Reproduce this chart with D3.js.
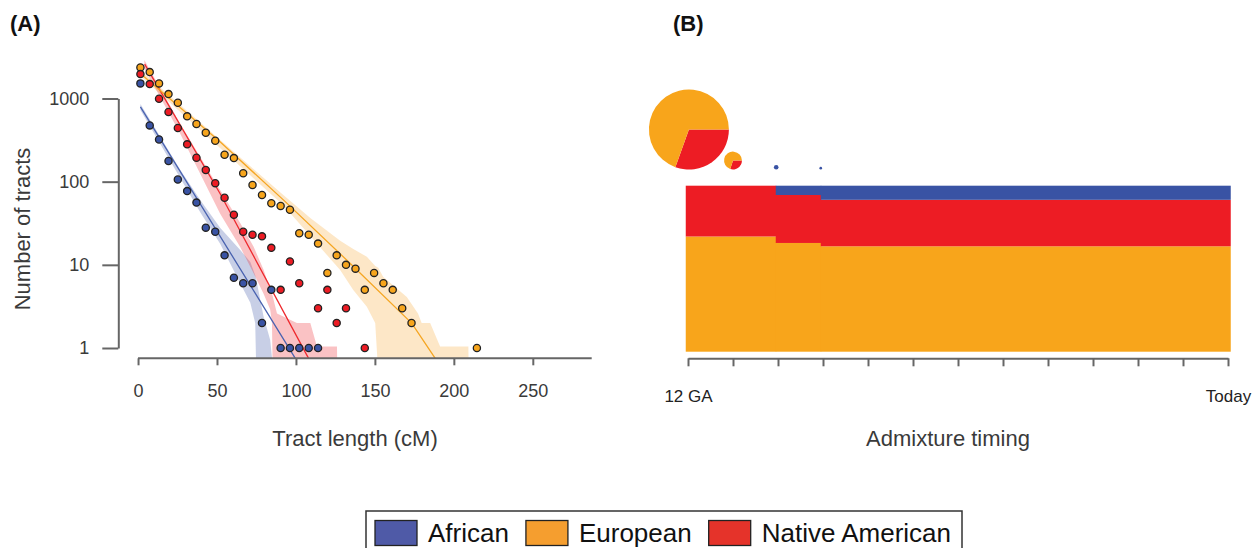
<!DOCTYPE html>
<html>
<head>
<meta charset="utf-8">
<script src="https://cdn.jsdelivr.net/npm/d3@7"></script>
<style>
  body { margin: 0; background: #fff; }
  svg { display: block; font-family: "Liberation Sans", Arial, sans-serif; }
  .axis path, .axis line { stroke: #666; stroke-width: 2; }
  .axis text { font-family: "Liberation Sans", Arial, sans-serif; font-size: 18px; fill: #3a3a3a; }
  .title { font-size: 22px; fill: #3a3a3a; }
  .panel { font-size: 22px; font-weight: bold; fill: #111; }
</style>
</head>
<body>
<svg id="chart" width="1258" height="548"></svg>
<script>
// ---------- data: panel A (tract length distribution) ----------
const ancestries = ["African", "European", "Native American"];

// bin centres in cM
const binCM = [1.5, 7.4, 13.3, 19.3, 25.2, 31.1, 37.0, 42.9, 48.9, 54.8, 60.7, 66.6, 72.5,
  78.5, 84.4, 90.3, 96.2, 102.1, 108.1, 114.0, 119.9, 125.8, 131.7, 137.7, 143.6, 149.5,
  155.4, 161.3, 167.3, 173.2, 179.1, 185.0, 190.9, 196.9, 202.8, 208.7, 214.6];

// observed tract counts per bin (null = no tracts)
const africanCounts = [1520, 475, 322, 177, 106, 77, 56, 28, 25, 13, 7, 6, 6, 2, 5, 1, 1, 1, 1, 1];
const europeanCounts = [2365, 2076, 1518, 1129, 889, 610, 493, 387, 310, 211, 192, 126, 91, 69,
  55, 51, 46, 24, 23, 18, 8, 13, 10, 9, 5, 8, 6, 5, 3, 2, null, null, null, null, null, null, 1];
const nativeCounts = [1965, 1490, 992, 687, 441, 281, 194, 138, 96, 64, 40, 25, 23, 22, 16, 5,
  11, 6, null, 3, 5, 2, 3, null, 1];

// model prediction (knots, cM / count)
const africanModelCM = [1.5, 99.6, 104];
const africanModel = [795, 0.75, 0.55];
const europeanModelCM = [1.5, 52.1, 92.2, 134.4, 173.4, 188.2, 192];
const europeanModel = [2000, 300, 60, 10.4, 1.98, 0.75, 0.6];
const nativeModelCM = [4.2, 52.1, 108.0, 112];
const nativeModel = [2590, 71, 0.75, 0.55];

// bootstrap bands (cM, upper, lower)
const africanBandCM = [1.5, 26.8, 39.4, 52.1, 64.7, 71.1, 74.2, 74.9, 79.5, 83.7, 85.8];
const africanBandHi = [857, 138, 60, 27.7, 15.1, 10.8, 7.5, 6.6, 2.4, 1.25, 0.5];
const africanBandLo = [726, 110, 43, 17.8, 6.0, 3.5, 2.0, 0.5, 0.5, 0.5, 0.5];
const nativeBandCM = [4.0, 26.8, 52.1, 64.7, 73.2, 79.5, 83.7, 84.8, 85.3, 88.0, 100.6, 109.1, 113.3, 126.0, 126.2];
const nativeBandHi = [2896, 492, 79, 31.8, 16.5, 8.7, 5.0, 4.5, 4.2, 2.6, 2.0, 2.0, 1.04, 1.04, 0.5];
const nativeBandLo = [2318, 373, 40.8, 16.4, 7.9, 4.5, 2.9, 2.0, 0.5, 0.5, 0.5, 0.5, 0.5, 0.5, 0.5];
const europeanBandCM = [1.5, 52.1, 92.0, 109.1, 128.0, 136.3, 144.9, 150.2, 152.1, 155.2, 170.2, 177.3, 179.6, 185.0, 191.3, 209.2, 209.4];
const europeanBandHi = [2194, 316, 69, 36.5, 19.5, 15.5, 12.5, 9.7, 9.2, 7.2, 4.1, 2.6, 2.0, 2.0, 1.04, 1.04, 0.5];
const europeanBandLo = [1858, 253, 52, 22.2, 8.66, 4.98, 3.14, 2.0, 0.5, 0.5, 0.5, 0.5, 0.5, 0.5, 0.5, 0.5, 0.5];

const xTicks = [0, 50, 100, 150, 200, 250];
const yTicks = [1, 10, 100, 1000];

// ---------- data: panel B (admixture timing) ----------
const genTicks = [0, 1, 2, 3, 4, 5, 6, 7, 8, 9, 10, 11, 12];
const genLabels = { 0: "12 GA", 12: "Today" };
// stacked ancestry proportions per period
const periodStart = [-0.05, 1.95, 2.95];
const periodEnd = [1.95, 2.95, 12.05];
const periodEuropean = [0.694, 0.655, 0.635];
const periodNative = [0.306, 0.289, 0.280];
const periodAfrican = [0, 0.056, 0.085];
// migration pulses
const pulseGen = [0.02, 1, 1.96, 2.95];
const pulseSize = [1, 0.05, 0.0033, 0.0011];
const pulseEuropean = [0.695, 0.70, 0, 0];
const pulseNative = [0.305, 0.30, 0, 0];
const pulseAfrican = [0, 0, 1, 1];

// ---------- styles ----------
const pointColor = { "African": "#3953a4", "European": "#f7a51c", "Native American": "#ed1c24" };
const lineColor = { "African": "#4a63b0", "European": "#f5a623", "Native American": "#ee2a2f" };
const bandColor = { "African": "rgba(57,83,164,0.28)", "European": "rgba(247,160,30,0.25)", "Native American": "rgba(237,28,36,0.27)" };
const barColor = { "African": "#3953a4", "European": "#f8a51b", "Native American": "#ed1c24" };
const legendColor = { "African": "#4f5aa7", "European": "#f59e2f", "Native American": "#e5332a" };

const svg = d3.select("#chart");

// ================= panel A =================
const plotA = { left: 118.3, right: 591.7, top: 50, bottom: 358.3 };
const x = d3.scaleLinear().domain([-12.5, 287.3]).range([plotA.left, plotA.right]);
const y = d3.scaleLog().domain([1, 1000]).range([348, 98.5]);

svg.append("clipPath").attr("id", "clipA").append("rect")
  .attr("x", plotA.left).attr("y", plotA.top)
  .attr("width", plotA.right - plotA.left).attr("height", plotA.bottom - plotA.top);

const gA = svg.append("g").attr("clip-path", "url(#clipA)");

const bands = [
  { name: "African", cm: africanBandCM, hi: africanBandHi, lo: africanBandLo },
  { name: "Native American", cm: nativeBandCM, hi: nativeBandHi, lo: nativeBandLo },
  { name: "European", cm: europeanBandCM, hi: europeanBandHi, lo: europeanBandLo }
];
const area = d3.area().x(d => x(d.cm)).y0(d => y(d.lo)).y1(d => y(d.hi));
gA.selectAll(".band").data(bands).join("path")
  .attr("class", "band")
  .attr("d", b => area(b.cm.map((c, i) => ({ cm: c, hi: b.hi[i], lo: b.lo[i] }))))
  .attr("fill", b => bandColor[b.name]);

const models = [
  { name: "African", cm: africanModelCM, v: africanModel },
  { name: "Native American", cm: nativeModelCM, v: nativeModel },
  { name: "European", cm: europeanModelCM, v: europeanModel }
];
const line = d3.line().x(d => x(d.cm)).y(d => y(d.v));
gA.selectAll(".model").data(models).join("path")
  .attr("class", "model")
  .attr("d", m => line(m.cm.map((c, i) => ({ cm: c, v: m.v[i] }))))
  .attr("fill", "none")
  .attr("stroke", m => lineColor[m.name])
  .attr("stroke-width", 1.3);

const series = [
  { name: "European", counts: europeanCounts },
  { name: "Native American", counts: nativeCounts },
  { name: "African", counts: africanCounts }
];
series.forEach(s => {
  const pts = s.counts.map((v, i) => ({ cm: binCM[i], v })).filter(d => d.v != null);
  gA.append("g").selectAll("circle").data(pts).join("circle")
    .attr("cx", d => x(d.cm))
    .attr("cy", d => y(d.v))
    .attr("r", 3.6)
    .attr("fill", pointColor[s.name])
    .attr("stroke", "#222")
    .attr("stroke-width", 1.3);
});

// axes
const xAxisG = svg.append("g").attr("class", "axis")
  .attr("transform", `translate(0,${plotA.bottom})`)
  .call(d3.axisBottom(x).tickValues(xTicks).tickSize(7).tickSizeOuter(0).tickPadding(19));
xAxisG.select(".domain").attr("d", `M${x(0)},0H${x.range()[1]}`);

svg.append("g").attr("class", "axis")
  .attr("transform", `translate(${plotA.left},0)`)
  .call(d3.axisLeft(y).tickValues(yTicks).tickFormat(d3.format("d")).tickSize(16).tickSizeOuter(0).tickPadding(13));

svg.append("text").attr("class", "title")
  .attr("text-anchor", "middle")
  .attr("transform", `translate(30,${229}) rotate(-90)`)
  .text("Number of tracts");
svg.append("text").attr("class", "title")
  .attr("text-anchor", "middle")
  .attr("x", (plotA.left + plotA.right) / 2).attr("y", 446)
  .text("Tract length (cM)");
svg.append("text").attr("class", "panel").attr("x", 10).attr("y", 31).text("(A)");

// ================= panel B =================
const t = d3.scaleLinear().domain([0, 12]).range([688, 1228]);
const p = d3.scaleLinear().domain([0, 1]).range([351.7, 185.7]);

const periods = periodStart.map((s, i) => ({
  start: s, end: periodEnd[i],
  "European": periodEuropean[i], "Native American": periodNative[i], "African": periodAfrican[i]
}));
const stack = d3.stack().keys(["European", "Native American", "African"])(periods);
const gB = svg.append("g");
stack.forEach(layer => {
  gB.append("g").selectAll("rect").data(layer).join("rect")
    .attr("x", d => t(d.data.start))
    .attr("width", d => t(d.data.end) - t(d.data.start) + 0.5)
    .attr("y", d => p(d[1]))
    .attr("height", d => p(d[0]) - p(d[1]))
    .attr("fill", barColor[layer.key]);
});

// pies
const r = d3.scaleSqrt().domain([0, 1]).range([0, 40]);
const pieBase = 169.5;
const pie = d3.pie().sort(null).value(d => d.v).startAngle(Math.PI / 2).endAngle(Math.PI / 2 + 2 * Math.PI);
pulseGen.forEach((g, i) => {
  const rad = r(pulseSize[i]);
  const parts = [
    { k: "Native American", v: pulseNative[i] },
    { k: "European", v: pulseEuropean[i] },
    { k: "African", v: pulseAfrican[i] }
  ];
  const arc = d3.arc().innerRadius(0).outerRadius(rad);
  gB.append("g")
    .attr("transform", `translate(${t(g)},${pieBase - rad})`)
    .selectAll("path").data(pie(parts).filter(d => d.data.v > 0)).join("path")
    .attr("d", arc)
    .attr("fill", d => barColor[d.data.k]);
});

const tAxis = svg.append("g").attr("class", "axis")
  .attr("transform", "translate(0,358.3)")
  .call(d3.axisBottom(t).tickValues(genTicks).tickSize(8).tickSizeOuter(0).tickPadding(24)
    .tickFormat(d => genLabels[d] || ""));
tAxis.selectAll("text").style("font-size", "17px").style("fill", "#222");

svg.append("text").attr("class", "title")
  .attr("text-anchor", "middle")
  .attr("x", 948).attr("y", 446)
  .text("Admixture timing");
svg.append("text").attr("class", "panel").attr("x", 673).attr("y", 31).text("(B)");

// ================= legend =================
const lg = svg.append("g");
lg.append("rect").attr("x", 366).attr("y", 511).attr("width", 596).attr("height", 60)
  .attr("fill", "#fff").attr("stroke", "#333").attr("stroke-width", 1.5);
let lx = 375;
ancestries.forEach(a => {
  lg.append("rect").attr("x", lx).attr("y", 520.5).attr("width", 42).attr("height", 25)
    .attr("fill", legendColor[a]).attr("stroke", "#222").attr("stroke-width", 1.3);
  const tx = lg.append("text").attr("x", lx + 53).attr("y", 542)
    .style("font-size", "26px").style("fill", "#111").text(a);
  lx += 53 + tx.node().getComputedTextLength() + 17;
});
</script>
</body>
</html>
